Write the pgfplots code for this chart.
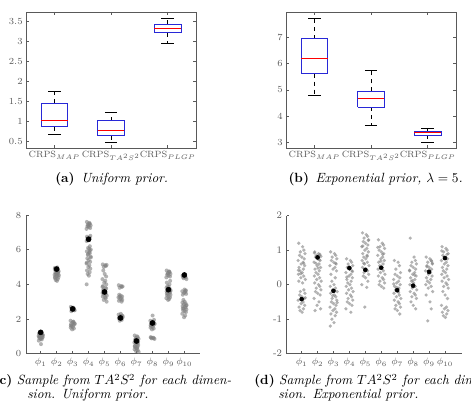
\documentclass[border=0pt]{standalone}
\usepackage{pgfplots}
\pgfplotsset{compat=1.18}
\definecolor{axgray}{gray}{0.35}
\definecolor{ptgray}{gray}{0.5}
\definecolor{boxblue}{RGB}{40,40,215}
\pgfplotsset{
  tickfont/.style={font=\fontsize{7.5}{9}\selectfont, text=axgray},
  boxstyle/.style={
    scale only axis, anchor=south west, width=127.5pt, height=102pt,
    xmin=0.5, xmax=3.5, xtick={1,2,3},
    xticklabels={CRPS$_{MAP}$,CRPS$_{TA^2S^2}$,CRPS$_{PLGP}$},
    tick align=inside, major tick length=2pt,
    axis line style={axgray, line width=0.6pt}, tick style={axgray, line width=0.5pt},
    ticklabel style={tickfont},
    yticklabel style={xshift=1pt},
    xticklabel style={yshift=1pt, font=\fontsize{6.8}{8}\selectfont},
    unbounded coords=jump,
  },
  boxln/.style={draw=boxblue, line width=0.6pt, mark=none, line join=miter},
  medln/.style={draw=red, line width=0.6pt, mark=none},
  whisk/.style={draw=black, dashed, line width=0.5pt, mark=none},
  capln/.style={draw=black, solid, line width=0.6pt, mark=none},
  scatstyle/.style={
    scale only axis, anchor=south west,
    axis lines=left, axis line style={-, axgray, line width=0.6pt},
    tick align=inside, major tick length=2pt, tick style={axgray, line width=0.5pt},
    ticklabel style={tickfont},
    xtick={1,...,10},
    xticklabels={$\phi_1$,$\phi_2$,$\phi_3$,$\phi_4$,$\phi_5$,$\phi_6$,$\phi_7$,$\phi_8$,$\phi_9$,$\phi_{10}$},
    clip=false,
  },
  grayp/.style={only marks, mark=*, mark options={draw opacity=0, fill=ptgray, fill opacity=0.6}},
  blackp/.style={only marks, mark=*, mark options={draw=black, fill=black}},
}
\begin{document}
\begin{tikzpicture}
\path[use as bounding box, clip] (0,0) rectangle (353.25pt,306.75pt);

% (a)
\begin{axis}[boxstyle, at={(19.5pt,195.75pt)}, ymin=0.34, ymax=3.74, ytick={0.5,1,1.5,2,2.5,3,3.5}]
\addplot[whisk] coordinates {(1,1.46) (1,1.75) (nan,nan) (1,0.87) (1,0.675) (nan,nan)
  (2,1.025) (2,1.225) (nan,nan) (2,0.65) (2,0.485) (nan,nan)
  (3,3.44) (3,3.575) (nan,nan) (3,3.22) (3,2.95)};
\addplot[capln] coordinates {(0.89,1.75) (1.11,1.75) (nan,nan) (0.89,0.675) (1.11,0.675) (nan,nan)
  (1.89,1.225) (2.11,1.225) (nan,nan) (1.89,0.485) (2.11,0.485) (nan,nan)
  (2.89,3.575) (3.11,3.575) (nan,nan) (2.89,2.95) (3.11,2.95)};
\addplot[boxln] coordinates {(0.765,0.87) (1.235,0.87) (1.235,1.46) (0.765,1.46) (0.765,0.87) (nan,nan)
  (1.765,0.65) (2.235,0.65) (2.235,1.025) (1.765,1.025) (1.765,0.65) (nan,nan)
  (2.765,3.22) (3.235,3.22) (3.235,3.44) (2.765,3.44) (2.765,3.22)};
\addplot[medln] coordinates {(0.765,1.04) (1.235,1.04) (nan,nan) (1.765,0.77) (2.235,0.77) (nan,nan) (2.765,3.34) (3.235,3.34)};
\end{axis}

% (b)
\begin{axis}[boxstyle, at={(214.5pt,195.75pt)}, ymin=2.78, ymax=7.98, ytick={3,4,5,6,7}]
\addplot[whisk] coordinates {(1,6.96) (1,7.73) (nan,nan) (1,5.62) (1,4.80) (nan,nan)
  (2,4.94) (2,5.74) (nan,nan) (2,4.33) (2,3.63) (nan,nan)
  (3,3.43) (3,3.54) (nan,nan) (3,3.26) (3,3.0)};
\addplot[capln] coordinates {(0.89,7.73) (1.11,7.73) (nan,nan) (0.89,4.80) (1.11,4.80) (nan,nan)
  (1.89,5.74) (2.11,5.74) (nan,nan) (1.89,3.63) (2.11,3.63) (nan,nan)
  (2.89,3.54) (3.11,3.54) (nan,nan) (2.89,3.0) (3.11,3.0)};
\addplot[boxln] coordinates {(0.765,5.62) (1.235,5.62) (1.235,6.96) (0.765,6.96) (0.765,5.62) (nan,nan)
  (1.765,4.33) (2.235,4.33) (2.235,4.94) (1.765,4.94) (1.765,4.33) (nan,nan)
  (2.765,3.26) (3.235,3.26) (3.235,3.43) (2.765,3.43) (2.765,3.26)};
\addplot[medln] coordinates {(0.765,6.2) (1.235,6.2) (nan,nan) (1.765,4.68) (2.235,4.68) (nan,nan) (2.765,3.36) (3.235,3.36)};
\end{axis}

% (c)
\begin{axis}[scatstyle, at={(19.5pt,41.5pt)}, width=130.5pt, height=104pt,
  xmin=0.08, xmax=10.98, ymin=0, ymax=8, ytick={0,2,4,6,8}]
\addplot[grayp, mark size=1.5pt] table {
x y
0.89 1.15
1.04 1.10
1.08 1.05
0.95 1.00
1.13 0.95
0.92 0.90
1.01 0.85
1.10 1.12
0.87 1.02
1.05 0.92
0.98 0.88
1.11 1.08
0.90 0.97
1.07 0.82
0.94 1.18
1.02 0.55
0.88 0.75
1.08 0.93
0.97 1.00
1.14 1.06
1.89 4.95
2.04 4.90
2.08 4.85
1.95 4.80
2.13 4.75
1.92 4.70
2.01 4.65
2.10 4.60
1.87 4.55
2.05 4.50
1.98 4.45
2.11 4.40
1.90 4.35
2.07 4.30
1.94 4.25
2.02 4.20
1.88 4.88
2.08 4.72
1.97 4.62
2.14 4.52
1.89 4.42
2.04 4.98
2.08 4.68
1.95 4.58
2.89 2.70
3.04 2.65
3.08 2.60
2.95 2.55
3.13 2.50
2.92 2.45
3.01 2.62
3.10 2.52
2.87 1.90
3.05 1.85
2.98 1.80
3.11 1.75
2.90 1.70
3.07 1.65
2.94 1.60
3.02 1.55
2.88 1.50
3.08 1.45
2.97 1.40
3.14 1.72
2.89 1.62
3.04 1.82
3.08 2.58
3.89 7.60
4.04 7.55
4.08 7.50
3.95 7.45
4.13 7.40
3.92 7.35
4.01 7.30
4.10 7.25
3.87 7.20
4.05 7.48
3.98 7.38
4.11 6.80
3.90 6.75
4.07 6.70
3.94 6.65
4.02 6.55
3.88 6.50
4.08 6.20
3.97 6.10
4.14 6.00
3.89 5.90
4.04 5.85
4.08 5.80
3.95 5.70
4.13 5.60
3.92 5.50
4.01 5.40
4.10 5.30
3.87 5.20
4.05 5.10
3.98 5.00
4.11 4.90
3.90 4.80
4.07 4.70
3.94 4.60
4.02 4.50
3.88 4.00
4.08 5.95
3.97 5.75
4.14 5.55
3.89 5.25
4.04 6.05
4.89 5.15
5.04 5.10
5.08 5.05
4.95 5.00
5.13 5.12
4.92 4.80
5.01 4.60
5.10 4.45
4.87 4.30
5.05 4.20
4.98 4.10
5.11 4.00
4.90 3.90
5.07 3.80
4.94 3.70
5.02 3.60
4.88 3.50
5.08 3.45
4.97 3.40
5.14 3.35
4.89 3.30
5.04 3.25
5.08 3.20
4.95 3.10
5.13 3.00
4.92 3.65
5.01 3.55
5.10 3.75
4.87 3.85
5.89 3.95
6.04 3.90
6.08 3.85
5.95 3.80
6.13 3.88
5.92 3.40
6.01 3.35
6.10 3.30
5.87 3.25
6.05 3.20
5.98 3.15
6.11 3.10
5.90 3.05
6.07 3.00
5.94 3.28
6.02 2.30
5.88 2.25
6.08 2.20
5.97 2.15
6.14 2.10
5.89 2.05
6.04 2.00
6.08 1.95
5.95 1.90
6.13 2.18
5.92 2.08
6.89 1.05
7.04 1.00
7.08 0.95
6.95 0.90
7.13 0.85
6.92 0.80
7.01 0.75
7.10 0.70
6.87 0.65
7.05 0.60
6.98 0.55
7.11 0.50
6.90 0.45
7.07 0.40
6.94 0.35
7.02 0.30
6.88 0.25
7.08 0.20
6.97 0.15
7.14 0.10
6.89 0.42
7.04 0.32
7.08 0.62
6.95 0.82
7.89 0.95
8.04 0.92
8.08 0.90
7.95 0.88
8.13 0.85
7.92 0.93
8.01 2.20
8.10 1.95
7.87 1.90
8.05 1.85
7.98 1.80
8.11 1.75
7.90 1.70
8.07 1.65
7.94 1.60
8.02 1.55
7.88 1.50
8.08 1.45
7.97 1.40
8.14 1.72
7.89 1.62
8.89 4.80
9.04 4.75
9.08 4.70
8.95 4.65
9.13 4.60
8.92 4.55
9.01 4.50
9.10 4.45
8.87 4.40
9.05 4.72
8.98 4.62
9.11 4.20
8.90 4.10
9.07 4.00
8.94 3.90
9.02 3.85
8.88 3.80
9.08 3.75
8.97 3.70
9.14 3.65
8.89 3.60
9.04 3.55
9.08 3.50
8.95 3.45
9.13 3.40
8.92 3.35
9.01 3.30
9.10 3.25
8.87 3.20
9.05 3.15
8.98 3.10
9.11 3.58
8.90 3.48
9.89 4.50
10.04 4.45
10.08 4.40
9.95 4.35
10.13 4.30
9.92 4.42
10.01 3.70
10.10 3.65
9.87 3.60
10.05 3.55
9.98 3.50
10.11 3.45
9.90 3.40
10.07 3.62
9.94 3.10
10.02 3.00
9.88 2.95
10.08 2.90
9.97 2.85
10.14 2.80
9.89 2.75
10.04 2.70
10.08 2.65
9.95 2.60
10.13 2.55
9.92 2.50
10.01 2.45
10.10 2.40
9.87 2.30
10.05 2.20
9.98 2.10
10.11 2.78
9.90 2.62
};
\addplot[blackp, mark size=1.9pt] table {
x y
1 1.23
2 4.88
3 2.58
4 6.60
5 3.56
6 2.06
7 0.73
8 1.77
9 3.69
10 4.54
};
\end{axis}

% (d)
\begin{axis}[scatstyle, at={(215pt,41.5pt)}, width=131.25pt, height=103.5pt,
  xmin=0.06, xmax=11.05, ymin=-2, ymax=2, ytick={-2,-1,0,1,2}, yticklabels={-2,-1,0,1,2}]
\addplot[grayp, mark size=1.35pt] table {
x y
0.82 1.20
1.06 1.10
1.14 1.00
0.92 0.95
1.21 0.90
0.87 0.85
1.01 0.80
1.16 0.75
0.78 0.70
1.09 0.65
0.97 0.60
1.19 0.55
0.84 0.50
1.11 0.45
0.90 0.40
1.03 0.35
0.80 0.30
1.13 0.25
0.95 0.20
1.23 0.15
0.82 0.10
1.06 0.05
1.14 -0.15
0.92 -0.20
1.21 -0.25
0.87 -0.30
1.01 -0.35
1.16 -0.40
0.78 -0.45
1.09 -0.50
0.97 -0.55
1.19 -0.60
0.84 -0.65
1.11 -0.70
0.90 -0.75
1.03 -0.80
0.80 0.42
1.13 0.62
0.95 0.32
1.23 -0.38
1.82 0.95
2.06 0.90
2.14 0.88
1.92 0.85
2.21 0.82
1.87 0.80
2.01 0.75
2.16 0.70
1.78 0.65
2.09 0.60
1.97 0.55
2.19 0.50
1.84 0.45
2.11 0.40
1.90 0.35
2.03 0.30
1.80 0.25
2.13 0.20
1.95 0.15
2.23 0.10
1.82 0.05
2.06 0.00
2.14 -0.05
1.92 -0.10
2.21 -0.15
1.87 -0.20
2.01 -0.25
2.16 -0.30
1.78 -0.40
2.09 -0.50
1.97 -0.60
2.19 -0.70
1.84 -0.75
2.11 0.72
1.90 0.62
2.03 0.48
1.80 0.92
2.13 0.85
2.82 0.95
3.06 0.90
3.14 0.85
2.92 0.80
3.21 0.75
2.87 0.70
3.01 0.65
3.16 0.60
2.78 0.55
3.09 0.50
2.97 0.45
3.19 0.40
2.84 0.30
3.11 0.20
2.90 0.10
3.03 0.00
2.80 -0.05
3.13 -0.10
2.95 -0.15
3.23 -0.20
2.82 -0.25
3.06 -0.30
3.14 -0.35
2.92 -0.40
3.21 -0.45
2.87 -0.50
3.01 -0.55
3.16 -0.60
2.78 -0.65
3.09 -0.70
2.97 -0.75
3.19 -0.80
2.84 -0.85
3.11 -0.90
2.90 -1.00
3.03 -1.10
2.80 -1.20
3.13 0.62
2.95 -0.32
3.23 -0.52
3.82 0.75
4.06 0.70
4.14 0.65
3.92 0.60
4.21 0.55
3.87 0.50
4.01 0.45
4.16 0.40
3.78 0.35
4.09 0.30
3.97 0.25
4.19 0.20
3.84 0.15
4.11 0.10
3.90 0.05
4.03 0.00
3.80 -0.05
4.13 -0.10
3.95 -0.15
4.23 -0.20
3.82 -0.25
4.06 -0.30
4.14 -0.35
3.92 -0.40
4.21 -0.45
3.87 -0.50
4.01 -0.55
4.16 -0.60
3.78 -0.70
4.09 -0.80
3.97 0.52
4.19 0.38
3.84 0.22
4.82 1.50
5.06 1.45
5.14 1.40
4.92 1.35
5.21 1.30
4.87 1.25
5.01 1.20
5.16 1.15
4.78 1.10
5.09 1.05
4.97 1.00
5.19 0.95
4.84 0.90
5.11 0.85
4.90 0.80
5.03 0.75
4.80 0.70
5.13 0.65
4.95 0.60
5.23 0.55
4.82 0.50
5.06 0.45
5.14 0.40
4.92 0.35
5.21 0.30
4.87 0.25
5.01 0.20
5.16 0.10
4.78 0.00
5.09 -0.08
4.97 -0.65
5.19 1.28
4.84 1.12
5.11 0.82
4.90 0.62
5.82 1.30
6.06 1.20
6.14 1.15
5.92 1.10
6.21 1.05
5.87 1.00
6.01 0.95
6.16 0.90
5.78 0.85
6.09 0.80
5.97 0.75
6.19 0.70
5.84 0.65
6.11 0.60
5.90 0.55
6.03 0.50
5.80 0.45
6.13 0.40
5.95 0.35
6.23 0.30
5.82 0.25
6.06 0.20
6.14 0.15
5.92 0.10
6.21 0.05
5.87 0.00
6.01 -0.05
6.16 -0.10
5.78 1.08
6.09 0.88
5.97 0.68
6.82 0.70
7.06 0.65
7.14 0.55
6.92 0.45
7.21 0.35
6.87 0.30
7.01 0.25
7.16 0.20
6.78 0.15
7.09 0.10
6.97 0.05
7.19 0.00
6.84 -0.05
7.11 -0.10
6.90 -0.15
7.03 -0.20
6.80 -0.25
7.13 -0.30
6.95 -0.35
7.23 -0.40
6.82 -0.45
7.06 -0.50
7.14 -0.55
6.92 -0.60
7.21 -0.65
6.87 -0.70
7.01 -0.75
7.16 -0.85
6.78 0.02
7.09 -0.22
6.97 -0.08
7.82 1.35
8.06 0.80
8.14 0.70
7.92 0.65
8.21 0.60
7.87 0.55
8.01 0.50
8.16 0.45
7.78 0.40
8.09 0.35
7.97 0.30
8.19 0.25
7.84 0.20
8.11 0.15
7.90 0.10
8.03 0.05
7.80 0.00
8.13 -0.05
7.95 -0.10
8.23 -0.15
7.82 -0.20
8.06 -0.25
8.14 -0.30
7.92 -0.35
8.21 -0.40
7.87 -0.50
8.01 -0.60
8.16 -0.70
7.78 0.42
8.09 0.28
7.97 0.12
8.82 0.80
9.06 0.75
9.14 0.70
8.92 0.65
9.21 0.60
8.87 0.55
9.01 0.50
9.16 0.45
8.78 0.40
9.09 0.35
8.97 0.30
9.19 0.25
8.84 0.20
9.11 0.15
8.90 0.10
9.03 0.05
8.80 0.00
9.13 -0.05
8.95 -0.10
9.23 -0.20
8.82 -0.30
9.06 -0.50
9.14 -0.70
8.92 -1.05
9.21 0.62
8.87 0.52
9.01 0.42
9.16 0.68
9.82 1.10
10.06 1.05
10.14 1.00
9.92 0.95
10.21 0.90
9.87 0.85
10.01 0.80
10.16 0.75
9.78 0.70
10.09 0.65
9.97 0.60
10.19 0.55
9.84 0.50
10.11 0.45
9.90 0.40
10.03 0.35
9.80 0.30
10.13 0.25
9.95 0.20
10.23 0.15
9.82 0.10
10.06 0.05
10.14 0.00
9.92 -0.05
10.21 -0.10
9.87 -0.20
10.01 -0.30
10.16 -0.40
9.78 -0.60
10.09 -0.65
9.97 -0.70
10.19 -0.75
9.84 -0.80
10.11 -0.85
9.90 -0.90
10.03 -0.95
9.80 0.98
10.13 0.88
};
\addplot[blackp, mark size=1.5pt] table {
x y
1 -0.42
2 0.79
3 -0.18
4 0.48
5 0.43
6 0.49
7 -0.16
8 -0.03
9 0.37
10 0.77
};
\end{axis}

% captions
\node[anchor=base west, inner sep=0pt] at (41.25pt,169.7pt) {\textbf{(a)}\enspace\textit{Uniform prior.}};
\node[anchor=base west, inner sep=0pt] at (216.2pt,169.7pt) {\textbf{(b)}\enspace\textit{Exponential prior, $\lambda=5$.}};
\node[anchor=base west, inner sep=0pt] at (-5pt,18pt) {\textbf{(c)} \textit{Sample from $TA^2S^2$ for each dimen-}};
\node[anchor=base west, inner sep=0pt] at (20.25pt,7.5pt) {\textit{sion. Uniform prior.}};
\node[anchor=base west, inner sep=0pt] at (190.5pt,18pt) {\textbf{(d)} \textit{Sample from $TA^2S^2$ for each dimen-}};
\node[anchor=base west, inner sep=0pt] at (208.5pt,7.5pt) {\textit{sion. Exponential prior.}};
\end{tikzpicture}
\end{document}
